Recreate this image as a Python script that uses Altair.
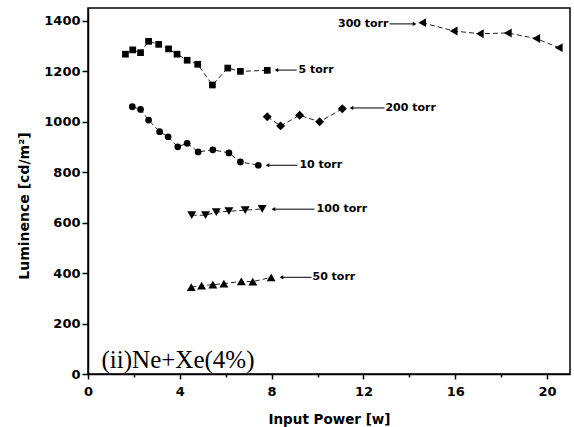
import altair as alt
import pandas as pd

# ---- data ----
series_names = ["5 torr", "10 torr", "200 torr", "300 torr", "100 torr", "50 torr"]
series_shapes = ["square", "circle", "diamond", "triangle-left", "triangle-down", "triangle-up"]
series_sizes = [45, 45, 80, 80, 80, 80]

t5_x = [1.63, 1.95, 2.29, 2.64, 3.08, 3.51, 3.88, 4.32, 4.78, 5.42, 6.09, 6.64, 7.81]
t5_y = [1267, 1284, 1273, 1318, 1306, 1288, 1267, 1243, 1227, 1145, 1212, 1199, 1203]

t10_x = [1.93, 2.29, 2.64, 3.12, 3.49, 3.91, 4.32, 4.80, 5.44, 6.14, 6.64, 7.42]
t10_y = [1059, 1048, 1006, 960, 940, 900, 914, 880, 888, 876, 840, 827]

t200_x = [7.81, 8.39, 9.22, 10.09, 11.08]
t200_y = [1019, 983, 1025, 999, 1051]

t300_x = [14.56, 15.93, 17.07, 18.29, 19.53, 20.51]
t300_y = [1392, 1359, 1348, 1351, 1329, 1293]

t100_x = [4.52, 5.12, 5.59, 6.14, 6.85, 7.59]
t100_y = [629, 629, 641, 645, 649, 654]

t50_x = [4.50, 4.95, 5.44, 5.92, 6.68, 7.18, 7.98]
t50_y = [344, 350, 354, 358, 367, 366, 383]

# annotation arrows: label, tail x, tip x, y, text x
ann_label = ["5 torr", "10 torr", "200 torr", "300 torr", "100 torr", "50 torr"]
ann_tail = [9.09, 9.13, 12.92, 13.14, 9.87, 9.74]
ann_tip = [8.21, 7.82, 11.48, 14.23, 8.08, 8.43]
ann_y = [1204, 827, 1054, 1387, 653, 383]
ann_text_x = [9.17, 9.21, 12.96, 13.09, 9.96, 9.78]
ann_head = ["triangle-left", "triangle-left", "triangle-left", "triangle-right", "triangle-left", "triangle-left"]
ann_side = ["left", "left", "left", "right", "left", "left"]

x_ticks = [0, 2, 4, 6, 8, 10, 12, 14, 16, 18, 20]
y_ticks = [0, 100, 200, 300, 400, 500, 600, 700, 800, 900, 1000, 1100, 1200, 1300, 1400]

# ---- tables ----
xs = [t5_x, t10_x, t200_x, t300_x, t100_x, t50_x]
ys = [t5_y, t10_y, t200_y, t300_y, t100_y, t50_y]
rows = []
for name, sx, sy in zip(series_names, xs, ys):
    for i, (a, b) in enumerate(zip(sx, sy)):
        rows.append({"series": name, "i": i, "x": a, "y": b})
df = pd.DataFrame(rows)

ann = pd.DataFrame({
    "label": ann_label, "tail": ann_tail, "tip": ann_tip, "y": ann_y,
    "tx": ann_text_x, "head": ann_head, "side": ann_side,
})

note = pd.DataFrame({"x": [0.59], "y": [22], "t": ["(ii)Ne+Xe(4%)"]})

FONT = "DejaVu Sans"

xscale = alt.Scale(domain=[0, 21], nice=False, zero=False)
yscale = alt.Scale(domain=[0, 1450], nice=False, zero=False)

xaxis = alt.Axis(
    values=x_ticks,
    labelExpr="datum.value % 4 == 0 ? datum.label : ''",
    tickSize={"condition": {"test": "datum.value % 4 == 0", "value": 5}, "value": 3},
    grid=False, domainColor="black", domainWidth=1.5, tickColor="black", tickWidth=1.5,
    labelFont=FONT, labelFontWeight="bold", labelFontSize=13, labelColor="black",
    labelPadding=6, labelFlush=False,
    title="Input Power [w]", titleFont=FONT, titleFontWeight="bold", titleFontSize=13.5,
    titleColor="black", titleX=241, titleY=45.5, titleBaseline="middle", titleAlign="center",
)
yaxis = alt.Axis(
    values=y_ticks, format="d",
    labelExpr="datum.value % 200 == 0 ? datum.label : ''",
    tickSize={"condition": {"test": "datum.value % 200 == 0", "value": 6}, "value": 4},
    grid=False, domainColor="black", domainWidth=1.5, tickColor="black", tickWidth=1.5,
    labelFont=FONT, labelFontWeight="bold", labelFontSize=13, labelColor="black",
    labelPadding=2, labelFlush=False,
    title="Luminence [cd/m²]", titleFont=FONT, titleFontWeight="bold", titleFontSize=14,
    titleColor="black", titleAngle=270, titleX=-63.5, titleY=197.5,
    titleBaseline="middle", titleAlign="center",
)

X = alt.X("x:Q", scale=xscale, axis=xaxis)
Y = alt.Y("y:Q", scale=yscale, axis=yaxis)

lines = alt.Chart(df).mark_line(strokeDash=[5, 3], strokeWidth=1, color="#222222").encode(
    x=X, y=Y, detail="series:N", order="i:Q"
)

point_layers = []
for name, shp, sz in zip(series_names, series_shapes, series_sizes):
    point_layers.append(
        alt.Chart(df).transform_filter(alt.datum.series == name)
        .mark_point(filled=True, opacity=1, color="black", shape=shp, size=sz, strokeWidth=0)
        .encode(x=alt.X("x:Q", scale=xscale), y=alt.Y("y:Q", scale=yscale))
    )

arrows = alt.Chart(ann).mark_rule(color="black", strokeWidth=1).encode(
    x=alt.X("tail:Q", scale=xscale), x2="tip:Q", y=alt.Y("y:Q", scale=yscale)
)
heads = alt.Chart(ann).mark_point(filled=True, opacity=1, color="black", size=18).encode(
    x=alt.X("tip:Q", scale=xscale),
    y=alt.Y("y:Q", scale=yscale),
    shape=alt.Shape("head:N", scale=alt.Scale(domain=["triangle-left", "triangle-right"],
                                              range=["triangle-left", "triangle-right"]), legend=None),
)
labels_l = alt.Chart(ann).transform_filter("datum.side == 'left'").mark_text(
    align="left", baseline="middle", font=FONT, fontWeight="bold", fontSize=11, color="black"
).encode(x=alt.X("tx:Q", scale=xscale), y=alt.Y("y:Q", scale=yscale), text="label:N")
labels_r = alt.Chart(ann).transform_filter("datum.side == 'right'").mark_text(
    align="right", baseline="middle", font=FONT, fontWeight="bold", fontSize=11, color="black"
).encode(x=alt.X("tx:Q", scale=xscale), y=alt.Y("y:Q", scale=yscale), text="label:N")

note_text = alt.Chart(note).mark_text(
    align="left", baseline="alphabetic", font="Liberation Serif", fontSize=25, color="black"
).encode(x=alt.X("x:Q", scale=xscale), y=alt.Y("y:Q", scale=yscale), text="t:N")

chart = alt.layer(lines, *point_layers, arrows, heads, labels_l, labels_r, note_text).properties(
    width=482, height=366,
    autosize=alt.AutoSizeParams(type="none"),
    padding={"left": 88, "top": 8, "right": 4, "bottom": 53},
    background="white",
).configure_view(stroke="black", strokeWidth=1.5)

chart.save("out.html", embed_options={"renderer": "svg", "actions": False})
